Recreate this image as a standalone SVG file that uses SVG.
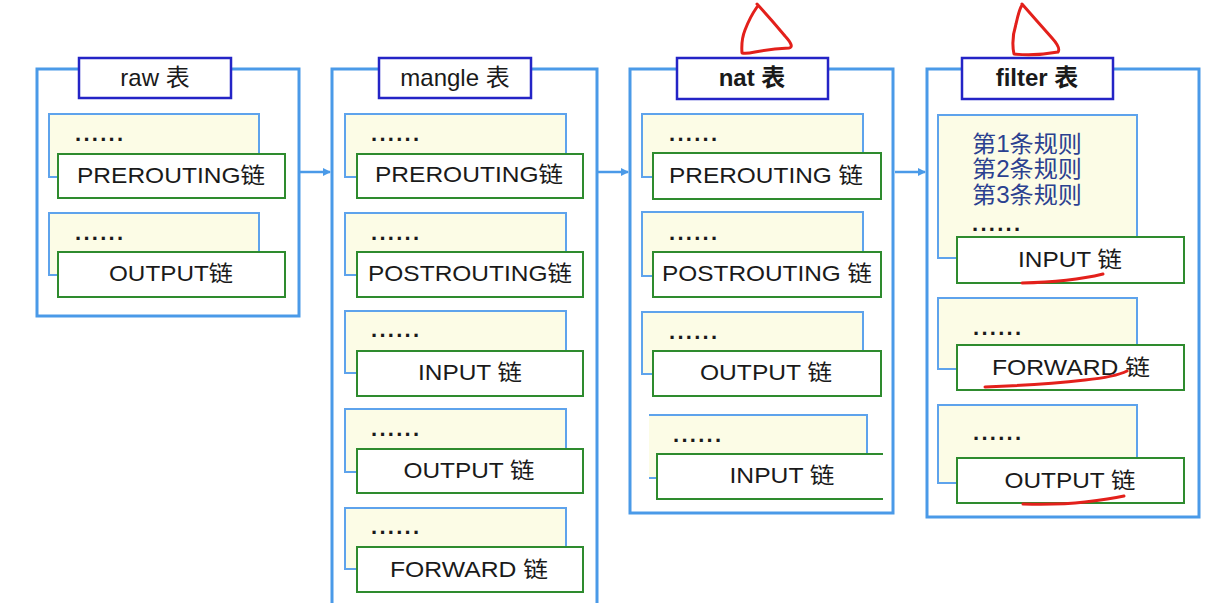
<svg xmlns="http://www.w3.org/2000/svg" width="1209" height="614" viewBox="0 0 1209 614">
<style>
.frame{fill:none;stroke:#4a9ae8;stroke-width:3}
.title{fill:#fff;stroke:#2424c6;stroke-width:2.5}
.rules{fill:#fcfce6;stroke:#5ea3ec;stroke-width:2}
.rulesn{fill:#fcfce6;stroke:none}
.ln{fill:none;stroke:#5ea3ec;stroke-width:2}
.chain{fill:#fff;stroke:#2e8b2e;stroke-width:2}
.chainn{fill:#fff;stroke:none}
.gl{fill:none;stroke:#2e8b2e;stroke-width:2}
.t{font-family:"Liberation Sans",Arial,"Noto Sans CJK SC",sans-serif;fill:#1a1a1a}
.tt{font-size:24px;text-anchor:middle}
.b{font-weight:bold}
.lab{font-size:22px;text-anchor:middle}
.dots{font-size:22px;font-weight:bold}
.rule{font-size:23px;fill:#2b4190}
.red{fill:none;stroke:#e3201b;stroke-width:3;stroke-linecap:round;stroke-linejoin:round}
.arr{stroke:#4a9ae8;stroke-width:2.5;fill:none}
</style>
<defs>
<marker id="ah" markerWidth="8" markerHeight="8" refX="7" refY="4" orient="auto" markerUnits="userSpaceOnUse">
<path d="M0,0 L8,4 L0,8 Z" fill="#4a9ae8"/>
</marker>
</defs>
<rect width="1209" height="614" fill="#fff"/>

<g id="connectors">
<line class="arr" x1="300" y1="172" x2="330" y2="172" marker-end="url(#ah)"/>
<line class="arr" x1="598" y1="172" x2="628" y2="172" marker-end="url(#ah)"/>
<line class="arr" x1="895" y1="172" x2="925" y2="172" marker-end="url(#ah)"/>
</g>

<g id="raw">
<rect class="frame" x="37" y="69" width="262" height="247"/>
<rect class="title" x="79" y="58" width="152" height="40"/>
<text class="t tt" x="155" y="86">raw 表</text>
<rect class="rules" x="49" y="114" width="210" height="63"/>
<rect class="chain" x="58" y="154" width="227" height="44"/>
<text class="t dots" x="75" y="141" textLength="48" lengthAdjust="spacing">......</text>
<text class="t lab" x="171" y="183" textLength="188" lengthAdjust="spacingAndGlyphs">PREROUTING链</text>
<rect class="rules" x="49" y="213" width="210" height="62"/>
<rect class="chain" x="58" y="252" width="227" height="45"/>
<text class="t dots" x="75" y="240" textLength="48" lengthAdjust="spacing">......</text>
<text class="t lab" x="171" y="281" textLength="124" lengthAdjust="spacingAndGlyphs">OUTPUT链</text>
</g>

<g id="mangle">
<path class="frame" d="M332,603 V69 H597 V603"/>
<rect class="title" x="379" y="58" width="152" height="40"/>
<text class="t tt" x="455" y="86">mangle 表</text>
<rect class="rules" x="345" y="114" width="221" height="63"/>
<rect class="chain" x="357" y="154" width="226" height="44"/>
<text class="t dots" x="371" y="141" textLength="48" lengthAdjust="spacing">......</text>
<text class="t lab" x="469" y="182" textLength="188" lengthAdjust="spacingAndGlyphs">PREROUTING链</text>
<rect class="rules" x="345" y="213" width="221" height="62"/>
<rect class="chain" x="357" y="252" width="226" height="45"/>
<text class="t dots" x="371" y="240" textLength="48" lengthAdjust="spacing">......</text>
<text class="t lab" x="470" y="281" textLength="204" lengthAdjust="spacingAndGlyphs">POSTROUTING链</text>
<rect class="rules" x="345" y="311" width="221" height="62"/>
<rect class="chain" x="357" y="351" width="226" height="45"/>
<text class="t dots" x="371" y="337" textLength="48" lengthAdjust="spacing">......</text>
<text class="t lab" x="470" y="380" textLength="104" lengthAdjust="spacingAndGlyphs">INPUT 链</text>
<rect class="rules" x="345" y="409" width="221" height="63"/>
<rect class="chain" x="357" y="449" width="226" height="44"/>
<text class="t dots" x="371" y="436" textLength="48" lengthAdjust="spacing">......</text>
<text class="t lab" x="469" y="478" textLength="131" lengthAdjust="spacingAndGlyphs">OUTPUT 链</text>
<rect class="rules" x="345" y="508" width="221" height="61"/>
<rect class="chain" x="357" y="547" width="226" height="45"/>
<text class="t dots" x="371" y="534" textLength="48" lengthAdjust="spacing">......</text>
<text class="t lab" x="469" y="577" textLength="158" lengthAdjust="spacingAndGlyphs">FORWARD 链</text>
</g>

<g id="nat">
<rect class="frame" x="630" y="69" width="263" height="444"/>
<rect class="title" x="677" y="58" width="151" height="41"/>
<text class="t tt b" x="752" y="86">nat 表</text>
<rect class="rules" x="642" y="114" width="221" height="63"/>
<rect class="chain" x="653" y="153" width="228" height="46"/>
<text class="t dots" x="669" y="141" textLength="48" lengthAdjust="spacing">......</text>
<text class="t lab" x="766" y="183" textLength="194" lengthAdjust="spacingAndGlyphs">PREROUTING 链</text>
<rect class="rules" x="642" y="212" width="221" height="64"/>
<rect class="chain" x="653" y="252" width="228" height="45"/>
<text class="t dots" x="669" y="240" textLength="48" lengthAdjust="spacing">......</text>
<text class="t lab" x="767" y="281" textLength="210" lengthAdjust="spacingAndGlyphs">POSTROUTING 链</text>
<rect class="rules" x="642" y="312" width="221" height="62"/>
<rect class="chain" x="653" y="351" width="228" height="45"/>
<text class="t dots" x="669" y="339" textLength="48" lengthAdjust="spacing">......</text>
<text class="t lab" x="766" y="380" textLength="132" lengthAdjust="spacingAndGlyphs">OUTPUT 链</text>
<rect class="rulesn" x="649" y="415" width="218" height="63"/>
<path class="ln" d="M649,415 H867 V454 M649,478 H657"/>
<rect class="chainn" x="657" y="454" width="225" height="45"/>
<path class="gl" d="M883,454 H657 V499 H883"/>
<text class="t dots" x="673" y="442" textLength="48" lengthAdjust="spacing">......</text>
<text class="t lab" x="782" y="483" textLength="105" lengthAdjust="spacingAndGlyphs">INPUT 链</text>
<path class="red" d="M757,4 Q770,18 785,36 Q795,47 789,48 Q770,49 755,52 Q746,54 742,53 Q741,40 745,30 Q750,17 757,7"/>
</g>

<g id="filter">
<rect class="frame" x="927" y="69" width="272" height="448"/>
<rect class="title" x="962" y="58" width="151" height="41"/>
<text class="t tt b" x="1037" y="86">filter 表</text>
<rect class="rules" x="938" y="115" width="199" height="143"/>
<rect class="chain" x="957" y="237" width="227" height="46"/>
<text class="t rule" x="972" y="152" textLength="110" lengthAdjust="spacingAndGlyphs">第1条规则</text>
<text class="t rule" x="972" y="177" textLength="110" lengthAdjust="spacingAndGlyphs">第2条规则</text>
<text class="t rule" x="972" y="203" textLength="110" lengthAdjust="spacingAndGlyphs">第3条规则</text>
<text class="t dots" x="972" y="231" textLength="48" lengthAdjust="spacing">......</text>
<text class="t lab" x="1070" y="267" textLength="104" lengthAdjust="spacingAndGlyphs">INPUT 链</text>
<rect class="rules" x="938" y="298" width="199" height="71"/>
<rect class="chain" x="957" y="345" width="227" height="45"/>
<text class="t dots" x="973" y="335" textLength="48" lengthAdjust="spacing">......</text>
<text class="t lab" x="1071" y="375" textLength="158" lengthAdjust="spacingAndGlyphs">FORWARD 链</text>
<rect class="rules" x="938" y="405" width="199" height="78"/>
<rect class="chain" x="957" y="458" width="227" height="45"/>
<text class="t dots" x="973" y="440" textLength="48" lengthAdjust="spacing">......</text>
<text class="t lab" x="1070" y="488" textLength="131" lengthAdjust="spacingAndGlyphs">OUTPUT 链</text>
<path class="red" d="M1022,4 Q1036,20 1052,38 Q1061,48 1058,52 Q1036,56 1014,54 Q1011,40 1016,24 Q1019,10 1022,5"/>
<path class="red" d="M1022,283 Q1070,282 1103,274"/>
<path class="red" d="M985,387 Q1040,385 1085,380 Q1115,377 1127,371"/>
<path class="red" d="M1023,504 Q1060,505 1085,502 Q1110,499 1124,496"/>
</g>
</svg>
